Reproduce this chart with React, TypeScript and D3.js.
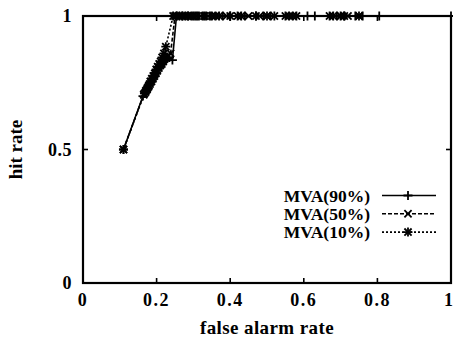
import React from "react";
import * as d3 from "d3";

const xTicks = [0, 0.2, 0.4, 0.6, 0.8, 1];
const yTicks = [0, 0.5, 1];

const far90 = [0.11, 0.163, 0.168, 0.172, 0.176, 0.18, 0.184, 0.188, 0.192, 0.196, 0.2, 0.204, 0.208, 0.212, 0.216, 0.22, 0.224, 0.228, 0.235, 0.243, 0.254, 0.262, 0.27, 0.278, 0.286, 0.295, 0.305, 0.315, 0.325, 0.335, 0.345, 0.36, 0.38, 0.4, 0.42, 0.44, 0.47, 0.49, 0.51, 0.55, 0.57, 0.61, 0.63, 0.67, 0.69, 0.71, 0.74, 0.76, 0.805, 1.0];
const hit90 = [0.5, 0.7, 0.71, 0.72, 0.73, 0.74, 0.75, 0.76, 0.77, 0.78, 0.79, 0.8, 0.81, 0.815, 0.82, 0.83, 0.835, 0.84, 0.845, 0.835, 1, 1, 1, 1, 1, 1, 1, 1, 1, 1, 1, 1, 1, 1, 1, 1, 1, 1, 1, 1, 1, 1, 1, 1, 1, 1, 1, 1, 1, 1];

const far50 = [0.11, 0.165, 0.17, 0.174, 0.178, 0.182, 0.186, 0.19, 0.194, 0.198, 0.202, 0.206, 0.21, 0.214, 0.218, 0.222, 0.226, 0.232, 0.238, 0.25, 0.26, 0.27, 0.28, 0.29, 0.3, 0.32, 0.34, 0.36, 0.39, 0.42, 0.45, 0.48, 0.5, 0.55, 0.57, 0.67, 0.7, 0.72, 0.75];
const hit50 = [0.5, 0.705, 0.715, 0.725, 0.735, 0.745, 0.755, 0.765, 0.775, 0.785, 0.795, 0.805, 0.815, 0.82, 0.83, 0.84, 0.845, 0.85, 0.86, 1, 1, 1, 1, 1, 1, 1, 1, 1, 1, 1, 1, 1, 1, 1, 1, 1, 1, 1, 1];

const far10 = [0.11, 0.167, 0.171, 0.175, 0.179, 0.183, 0.187, 0.191, 0.195, 0.199, 0.203, 0.207, 0.211, 0.215, 0.22, 0.225, 0.245, 0.255, 0.27, 0.285, 0.3, 0.31, 0.33, 0.35, 0.37, 0.4, 0.43, 0.47, 0.5, 0.52, 0.56, 0.58, 0.68, 0.7, 0.71, 0.75];
const hit10 = [0.5, 0.71, 0.72, 0.73, 0.74, 0.755, 0.765, 0.775, 0.785, 0.8, 0.81, 0.82, 0.83, 0.845, 0.86, 0.885, 1, 1, 1, 1, 1, 1, 1, 1, 1, 1, 1, 1, 1, 1, 1, 1, 1, 1, 1, 1];

const seriesNames = ["MVA(90%)", "MVA(50%)", "MVA(10%)"];

const W = 453, H = 341;
const L = 83, R = 451, T = 16, B = 283;

const x = d3.scaleLinear().domain([0, 1]).range([L, R]);
const y = d3.scaleLinear().domain([0, 1]).range([B, T]);

function Marker({ cx, cy, kind }: { cx: number; cy: number; kind: number }) {
  const s = 4.5;
  const c = s * 0.8;
  const plus = <path d={`M${cx - s},${cy}H${cx + s}M${cx},${cy - s}V${cy + s}`} />;
  const cross = <path d={`M${cx - c},${cy - c}L${cx + c},${cy + c}M${cx - c},${cy + c}L${cx + c},${cy - c}`} />;
  return (
    <g stroke="#000" strokeWidth={1.8} fill="none">
      {kind === 0 && plus}
      {kind === 1 && cross}
      {kind === 2 && (<>{plus}{cross}</>)}
    </g>
  );
}

export default function App() {
  const line = d3.line<[number, number]>().x(d => x(d[0])).y(d => y(d[1]));
  const series = [
    { far: far90, hit: hit90, dash: "none" },
    { far: far50, hit: hit50, dash: "4,2" },
    { far: far10, hit: hit10, dash: "2,2" },
  ];
  const font = "'Liberation Serif', 'DejaVu Serif', serif";
  return (
    <svg width={W} height={H} style={{ position: "absolute", left: 0, top: 0 }} fontFamily={font}>
      <rect width={W} height={H} fill="#fff" />
      {series.map((s, i) => {
        const pts = s.far.map((f, j) => [f, s.hit[j]] as [number, number]);
        return (
          <g key={i}>
            <path d={line(pts) || ""} fill="none" stroke="#000" strokeWidth={1.6} strokeDasharray={s.dash} />
            {pts.map((p, j) => <Marker key={j} cx={x(p[0])} cy={y(p[1])} kind={i} />)}
          </g>
        );
      })}
      <rect x={L} y={T} width={R - L} height={B - T} fill="none" stroke="#000" strokeWidth={2.2} />
      {xTicks.slice(1, -1).map(t => (
        <g key={t} stroke="#000" strokeWidth={1.6}>
          <line x1={x(t)} x2={x(t)} y1={B} y2={B - 5} />
          <line x1={x(t)} x2={x(t)} y1={T} y2={T + 5} />
        </g>
      ))}
      {yTicks.slice(1, -1).map(t => (
        <g key={t} stroke="#000" strokeWidth={1.6}>
          <line x1={L} x2={L + 5} y1={y(t)} y2={y(t)} />
          <line x1={R} x2={R - 5} y1={y(t)} y2={y(t)} />
        </g>
      ))}
      {xTicks.map(t => (
        <text key={t} x={t === 1 ? W : x(t)} y={306} textAnchor={t === 1 ? "end" : "middle"} fontSize={18} fontWeight="bold" letterSpacing={t === 1 ? 0 : 1.5}>{t}</text>
      ))}
      {yTicks.map(t => (
        <text key={t} x={72} y={y(t) + 6} textAnchor="end" fontSize={18} fontWeight="bold" letterSpacing={0.5}>{t}</text>
      ))}
      <text x={(L + R) / 2} y={334} textAnchor="middle" fontSize={19} fontWeight="bold" letterSpacing={0.4}>false alarm rate</text>
      <text transform={`translate(22,${(T + B) / 2}) rotate(-90)`} textAnchor="middle" fontSize={19} fontWeight="bold">hit rate</text>
      {seriesNames.map((n, i) => {
        const ly = 195.5 + i * 18.3;
        return (
          <g key={n}>
            <text x={370} y={ly + 6} textAnchor="end" fontSize={17.5} fontWeight="bold">{n}</text>
            <line x1={382} x2={436} y1={ly} y2={ly} stroke="#000" strokeWidth={1.6} strokeDasharray={series[i].dash} />
            <Marker cx={408} cy={ly} kind={i} />
          </g>
        );
      })}
    </svg>
  );
}
